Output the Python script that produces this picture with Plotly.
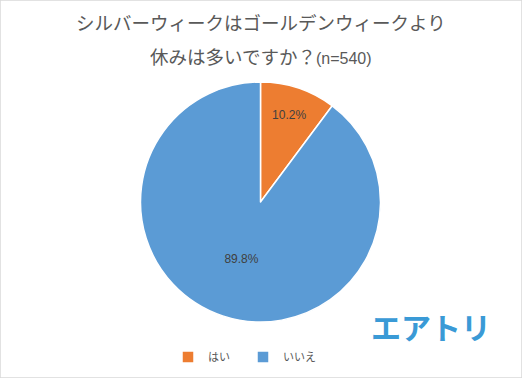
import plotly.graph_objects as go

labels = ["はい", "いいえ"]
values = [10.2, 89.8]
colors = ["#ED7D31", "#5B9BD5"]
title_line1 = "シルバーウィークはゴールデンウィークより"
title_line2 = "休みは多いですか？"
n_text = "(n=540)"

fig = go.Figure(go.Pie(
    labels=labels,
    values=values,
    sort=False,
    direction="clockwise",
    rotation=0,
    marker=dict(colors=colors, line=dict(color="white", width=1.5)),
    texttemplate="%{value:.1f}%",
    textposition="inside",
    insidetextorientation="horizontal",
    textfont=dict(family="Liberation Sans", size=12, color="#404040"),
    domain=dict(x=[140/522, 381/522], y=[1-322/378, 1-82/378]),
    hoverinfo="skip",
))

fig.update_layout(
    width=522, height=378,
    margin=dict(l=0, r=0, t=0, b=0),
    paper_bgcolor="white",
    showlegend=True,
    legend=dict(orientation="h", x=168/522, xanchor="left", y=1-357/378, yanchor="middle",
                font=dict(family="Noto Sans CJK JP", size=11, color="#595959"),
                itemwidth=30, entrywidth=30, traceorder="normal"),
    font=dict(family="Noto Sans CJK JP"),
    shapes=[dict(type="rect", xref="paper", yref="paper", x0=0, x1=1, y0=0, y1=1,
                 line=dict(color="#D9D9D9", width=1.5))],
    annotations=[
        dict(text=title_line1, x=0.5, y=1-22/378, xref="paper", yref="paper",
             showarrow=False, xanchor="center", yanchor="middle",
             font=dict(family="Noto Sans CJK JP", size=18.5, color="#595959")),
        dict(text=title_line2 + "<span style='font-family:Liberation Sans;font-size:16px'>" + n_text + "</span>",
             x=0.5, y=1-56/378, xref="paper", yref="paper",
             showarrow=False, xanchor="center", yanchor="middle",
             font=dict(family="Noto Sans CJK JP", size=18.5, color="#595959")),
        dict(text="<b>エアトリ</b>", x=431/522, y=1-326/378, xref="paper", yref="paper",
             showarrow=False, xanchor="center", yanchor="middle",
             font=dict(family="Noto Sans CJK JP", size=30, color="#3A9AD6")),
    ],
)

fig.write_html("out.html", config={"displayModeBar": False},
               post_script="document.body.style.margin='0';document.body.style.overflow='hidden';")
